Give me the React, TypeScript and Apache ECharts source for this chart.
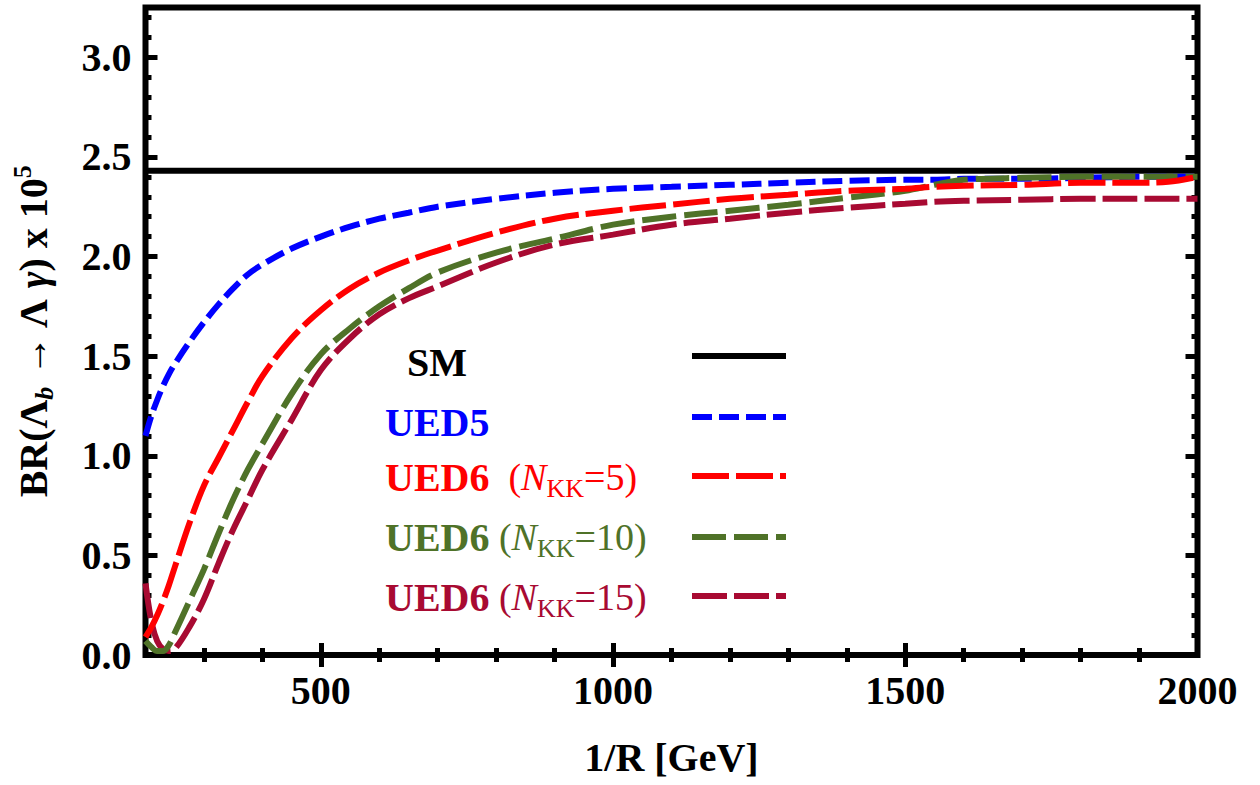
import React, { useEffect, useRef } from "react";
import * as echarts from "echarts";

const X = [200, 210, 220, 230, 240, 250, 275, 300, 325, 350, 375, 400, 450, 500, 550, 600, 650, 700, 800, 900, 1000, 1100, 1200, 1300, 1400, 1500, 1550, 1600, 1700, 1800, 1900, 1950, 2000];
const SM = 2.43;
const UED5 = [1.10, 1.20, 1.28, 1.35, 1.41, 1.46, 1.57, 1.67, 1.76, 1.84, 1.91, 1.96, 2.04, 2.10, 2.15, 2.19, 2.22, 2.25, 2.29, 2.32, 2.34, 2.35, 2.36, 2.37, 2.38, 2.385, 2.385, 2.39, 2.39, 2.395, 2.40, 2.40, 2.40];
const UED6_N5 = [0.09, 0.14, 0.20, 0.27, 0.35, 0.44, 0.66, 0.85, 0.99, 1.13, 1.27, 1.40, 1.59, 1.73, 1.84, 1.92, 1.98, 2.03, 2.12, 2.19, 2.23, 2.26, 2.29, 2.31, 2.33, 2.34, 2.35, 2.355, 2.36, 2.37, 2.37, 2.375, 2.40];
const UED6_N10 = [0.07, 0.04, 0.02, 0.02, 0.05, 0.11, 0.27, 0.43, 0.61, 0.78, 0.93, 1.06, 1.31, 1.51, 1.64, 1.75, 1.84, 1.92, 2.02, 2.09, 2.16, 2.20, 2.23, 2.26, 2.295, 2.33, 2.36, 2.385, 2.395, 2.40, 2.40, 2.40, 2.40];
const UED6_N15 = [0.36, 0.17, 0.07, 0.03, 0.02, 0.03, 0.14, 0.28, 0.46, 0.63, 0.78, 0.93, 1.18, 1.43, 1.59, 1.71, 1.79, 1.85, 1.97, 2.06, 2.11, 2.16, 2.19, 2.22, 2.245, 2.265, 2.275, 2.28, 2.285, 2.29, 2.29, 2.29, 2.29];

const X_LABELS = [500, 1000, 1500, 2000];
const X_MAJOR = [500, 1000, 1500];
const X_MINOR = [300, 400, 600, 700, 800, 900, 1100, 1200, 1300, 1400, 1600, 1700, 1800, 1900];
const Y_MAJOR = [0, 0.5, 1.0, 1.5, 2.0, 2.5, 3.0];
const Y_MINOR = [0.1, 0.2, 0.3, 0.4, 0.6, 0.7, 0.8, 0.9, 1.1, 1.2, 1.3, 1.4, 1.6, 1.7, 1.8, 1.9, 2.1, 2.2, 2.3, 2.4, 2.6, 2.7, 2.8, 2.9, 3.1, 3.2];

const FONT = "Liberation Serif";
const C_BLUE = "#0000ff";
const C_RED = "#ff0000";
const C_GREEN = "#4f7228";
const C_CRIMSON = "#a80a32";

const pairs = (ys: number[]) => X.map((x, i) => [x, ys[i]]);

export default function App() {
  const ref = useRef<HTMLDivElement>(null);
  useEffect(() => {
    if (!ref.current) return;
    const chart = echarts.init(ref.current, undefined, { renderer: "svg" });
    const tickLabel = { fontFamily: FONT, fontWeight: "bold" as const, fontSize: 40, color: "#000" };
    const xBase = { type: "value" as const, min: 200, max: 2000, gridIndex: 0, splitLine: { show: false }, axisLine: { show: false } };
    const yBase = { type: "value" as const, min: 0, max: 3.25, gridIndex: 0, splitLine: { show: false }, axisLine: { show: false } };
    const tick = (len: number, vals: number[]) => ({ show: true, inside: true, length: len, customValues: vals, lineStyle: { color: "#000", width: 5 } });
    const rich = {
      n: { fontFamily: FONT, fontWeight: "bold", fontSize: 40, color: "#000", lineHeight: 48 },
      ni: { fontFamily: FONT, fontWeight: "bold", fontStyle: "italic", fontSize: 40, color: "#000", lineHeight: 48 },
      si: { fontFamily: FONT, fontWeight: "bold", fontStyle: "italic", fontSize: 26, color: "#000", verticalAlign: "bottom", lineHeight: 30 },
      sup: { fontFamily: FONT, fontWeight: "bold", fontSize: 26, color: "#000", verticalAlign: "top", lineHeight: 30 },
    };
    const legRich = (c: string) => ({
      b: { fontFamily: FONT, fontWeight: "bold", fontSize: 40, fill: c, lineHeight: 48 },
      n: { fontFamily: FONT, fontSize: 38, fill: c, lineHeight: 48 },
      i: { fontFamily: FONT, fontStyle: "italic", fontSize: 38, fill: c, lineHeight: 48 },
      s: { fontFamily: FONT, fontSize: 26, fill: c, verticalAlign: "bottom", lineHeight: 34 },
    });
    const legText = (x: number, y: number, text: string, c: string) => ({
      type: "text", x, y, z: 10,
      style: { text, rich: legRich(c), fill: c, verticalAlign: "middle", align: "left" },
    });
    const legLine = (y: number, c: string, dash: any) => ({
      type: "line", z: 10,
      shape: { x1: 692, y1: y, x2: 786, y2: y },
      style: { stroke: c, lineWidth: 6, lineDash: dash },
    });
    const curve = (name: string, ys: number[], color: string, dash: number[]) => ({
      type: "line", name, data: pairs(ys), symbol: "none", smooth: 0.35,
      lineStyle: { color, width: 6, type: dash, cap: "butt" },
    });
    chart.setOption({
      animation: false,
      backgroundColor: "#fff",
      grid: { left: 145.5, right: 62.5, top: 7.5, bottom: 130, show: true, borderColor: "#000", borderWidth: 6, backgroundColor: "transparent" },
      xAxis: [
        {
          ...xBase, position: "bottom", axisTick: tick(12, X_MAJOR),
          axisLabel: { ...tickLabel, customValues: X_LABELS, margin: 15, formatter: (v: number) => String(v) },
          name: "1/R [GeV]", nameLocation: "middle", nameGap: 82,
          nameTextStyle: { fontFamily: FONT, fontWeight: "bold", fontSize: 40, color: "#000" },
        },
        { ...xBase, position: "bottom", axisTick: tick(7, X_MINOR), axisLabel: { show: false } },
        { ...xBase, position: "top", axisTick: tick(12, X_MAJOR), axisLabel: { show: false } },
        { ...xBase, position: "top", axisTick: tick(7, X_MINOR), axisLabel: { show: false } },
      ],
      yAxis: [
        {
          ...yBase, position: "left", axisTick: tick(12, Y_MAJOR),
          axisLabel: { ...tickLabel, customValues: Y_MAJOR, margin: 14, formatter: (v: number) => v.toFixed(1) },
          name: "{n|BR(Λ}{si|b}{n| → Λ }{ni|γ}{n|) x 10}{sup|5}", nameLocation: "middle", nameGap: 88,
          nameTextStyle: { rich },
        },
        { ...yBase, position: "left", axisTick: tick(6, Y_MINOR), axisLabel: { show: false } },
        { ...yBase, position: "right", axisTick: tick(12, Y_MAJOR), axisLabel: { show: false } },
        { ...yBase, position: "right", axisTick: tick(6, Y_MINOR), axisLabel: { show: false } },
      ],
      series: [
        { type: "line", name: "SM", data: [[200, SM], [2000, SM]], symbol: "none", lineStyle: { color: "#000", width: 6 }, z: 3 },
        curve("UED5", UED5, C_BLUE, [20, 7]),
        curve("UED6 NKK=15", UED6_N15, C_CRIMSON, [35, 7]),
        curve("UED6 NKK=10", UED6_N10, C_GREEN, [34, 8]),
        curve("UED6 NKK=5", UED6_N5, C_RED, [37, 7]),
      ],
      graphic: [
        legText(407, 362, "{b|SM}", "#000"),
        legText(385, 422, "{b|UED5}", C_BLUE),
        legText(385, 477, "{b|UED6}{n|  (}{i|N}{s|KK}{n|=5)}", C_RED),
        legText(385, 537, "{b|UED6}{n| (}{i|N}{s|KK}{n|=10)}", C_GREEN),
        legText(385, 597, "{b|UED6}{n| (}{i|N}{s|KK}{n|=15)}", C_CRIMSON),
        legLine(356, "#000", null),
        legLine(417, C_BLUE, [20, 7]),
        legLine(476, C_RED, [37, 7]),
        legLine(537, C_GREEN, [34, 8]),
        legLine(596, C_CRIMSON, [35, 7]),
      ],
    });
    return () => chart.dispose();
  }, []);
  return <div ref={ref} style={{ width: 1260, height: 785, position: "absolute", left: 0, top: 0 }} />;
}
